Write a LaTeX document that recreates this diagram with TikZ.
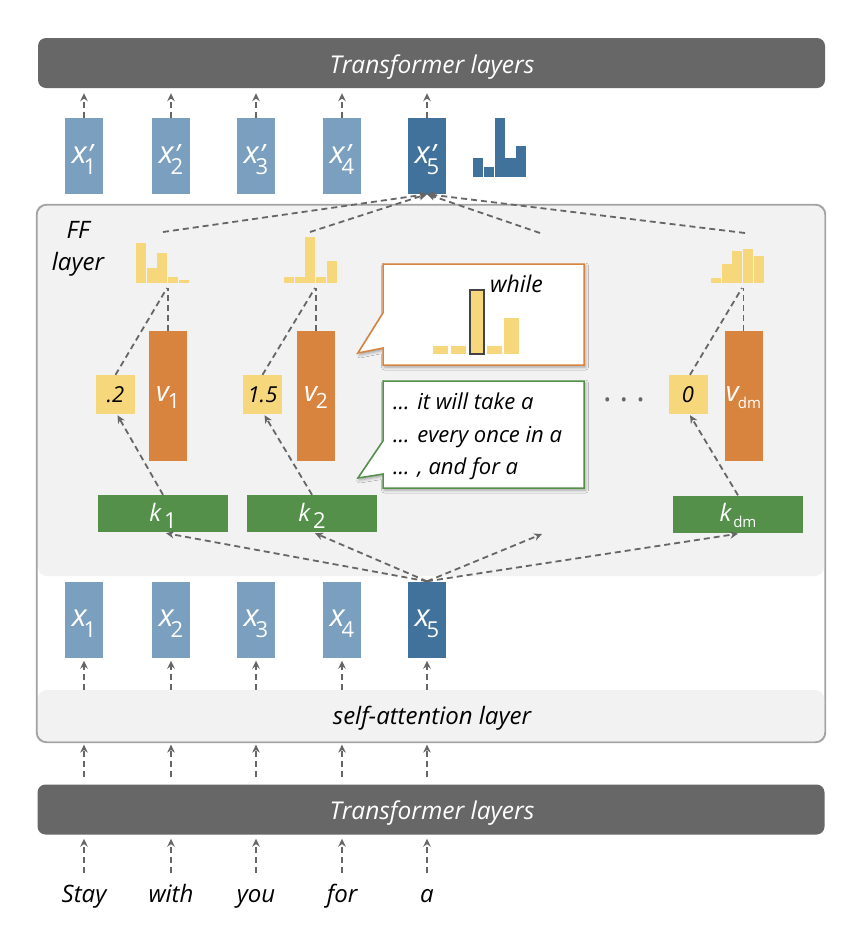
\documentclass[tikz,border=0pt]{standalone}
\usepackage{fontspec}
\setmainfont{Open Sans}
\usetikzlibrary{arrows.meta,shadows.blur}
\definecolor{darkbar}{HTML}{676767}
\definecolor{lblue}{HTML}{7BA0BF}
\definecolor{dblue}{HTML}{41729C}
\definecolor{vorange}{HTML}{D8843E}
\definecolor{vyellow}{HTML}{F6D77B}
\definecolor{kgreen}{HTML}{54904A}
\definecolor{arrc}{HTML}{666666}
\definecolor{panelf}{HTML}{F2F2F2}
\definecolor{panelb}{HTML}{A3A3A3}
\definecolor{hiedge}{HTML}{444444}
\definecolor{calloutO}{HTML}{D8843E}
\definecolor{calloutG}{HTML}{54904A}
\newcommand\xlab[1]{{\fontsize{31}{31}\selectfont\itshape x}\kern-3pt\raisebox{-11pt}{\fontsize{22}{22}\selectfont #1}}
\newcommand\xplab[1]{{\fontsize{31}{31}\selectfont\itshape x}\kern-3pt\rlap{\kern4pt\raisebox{-1pt}{\fontsize{28}{28}\selectfont\itshape ’}}\raisebox{-11pt}{\fontsize{22}{22}\selectfont #1}}
\newcommand\vlab[1]{{\fontsize{28}{28}\selectfont\itshape v}\kern-1pt\raisebox{-7pt}{\fontsize{21}{21}\selectfont #1}}
\newcommand\vdmlab{{\fontsize{28}{28}\selectfont\itshape v}\kern-1pt\raisebox{-7pt}{\fontsize{15}{15}\selectfont dm}}
\newcommand\klab[1]{{\fontsize{24}{24}\selectfont\itshape k}\kern3pt\raisebox{-7pt}{\fontsize{22}{22}\selectfont #1}}
\newcommand\kdmlab{{\fontsize{24}{24}\selectfont\itshape k}\kern2pt\raisebox{-6pt}{\fontsize{15}{15}\selectfont dm}}
\begin{document}
\begin{tikzpicture}[x=1pt,y=-1pt,
  arr/.style={draw=arrc,line width=1.8pt,dash pattern=on 6pt off 4pt,-{Stealth[length=8pt,width=7.5pt]}},
  dl/.style={draw=arrc,line width=1.8pt,dash pattern=on 6pt off 4pt},
  tbar/.style={fill=darkbar,rounded corners=8pt,minimum width=787pt,minimum height=50pt,inner sep=0pt},
  btext/.style={inner sep=0pt,anchor=base,text=white,font=\fontsize{24.5}{25}\selectfont\itshape},
  lbox/.style={fill=lblue,minimum width=38pt,minimum height=76pt,inner sep=0pt},
  dbox/.style={lbox,fill=dblue},
  vbox/.style={fill=vorange,minimum width=38pt,minimum height=130pt,inner sep=0pt},
  nbox/.style={fill=vyellow,minimum width=39pt,minimum height=39pt,inner sep=0pt,font=\fontsize{22}{22}\selectfont\itshape},
  kbox/.style={fill=kgreen,minimum width=130pt,minimum height=37pt,inner sep=0pt},
  wlab/.style={text=white,inner sep=0pt,anchor=base},
  word/.style={inner sep=0pt,anchor=base,font=\fontsize{24}{24}\selectfont\itshape},
  ctext/.style={inner sep=0pt,anchor=base west,font=\fontsize{22}{22}\selectfont\itshape},
  saband/.style={fill=panelf,rounded corners=9pt,minimum width=786pt,minimum height=51pt,inner sep=0pt},
  callshape/.style={line width=1.5pt,fill=white,blur shadow={shadow xshift=1.5pt,shadow yshift=-2pt,shadow blur radius=3pt,shadow opacity=35}},
]
\useasboundingbox (0,0) rectangle (856,940);
\fill[white] (0,0) rectangle (856,940);

% transformer bars
\node[tbar] (top) at (431.5,63) {};
\node[btext] (toptext) at (432,73) {Transformer layers};
\node[tbar] (bot) at (431,809.5) {};
\node[btext] (bottext) at (432,819) {Transformer layers};

% outer panel
\node[draw=panelb,line width=1.2pt,fill=white,rounded corners=10pt,minimum width=788pt,minimum height=537pt,inner sep=0pt] (ff) at (431,473.5) {};
\fill[panelf,rounded corners=9pt] (38,206) rectangle (824,576);
\node[saband] (sa) at (431,715.5) {};
\node[word] (satext) at (432,724) {self-attention layer};
\draw[panelb,line width=1.2pt,rounded corners=10pt] (ff.north west) rectangle (ff.south east);

% FF layer label
\node[word] (ffl) at (78,238) {FF};
\node[word] (ffl2) at (78,270) {layer};

% x' boxes
\foreach \i/\cx in {1/84,2/171,3/256,4/342}{
  \node[lbox] (xp\i) at (\cx,156) {};
  \node[wlab] at (\cx,163) {\xplab{\i}};
  \draw[arr,shorten >=5pt] (xp\i.north) -- (xp\i.north |- top.south);
}
\node[dbox] (xp5) at (427,156) {};
\node[wlab] at (427,163) {\xplab{5}};
\draw[arr,shorten >=5pt] (xp5.north) -- (xp5.north |- top.south);

% blue histogram
\foreach \xs/\yt in {473/158,483.8/167,494.6/118,505.4/158,516.2/146}
  \fill[dblue] (\xs,\yt) rectangle ({\xs+10.2},177);

% x boxes
\foreach \i/\cx/\w in {1/84/Stay,2/171/with,3/256/you,4/342/for}{
  \node[lbox] (x\i) at (\cx,619.5) {};
  \node[wlab] at (\cx,626) {\xlab{\i}};
  \draw[arr,shorten >=3pt] (x\i.south |- sa.north) -- (x\i.south);
  \draw[arr,shorten <=7pt,shorten >=2pt] (x\i.south |- bot.north) -- (x\i.south |- ff.south);
  \node[word] (w\i) at (\cx,902) {\w};
  \draw[arr,shorten >=4pt] ([yshift=29pt]w\i.base) -- (w\i.base |- bot.south);
}
\node[dbox] (x5) at (427,619.5) {};
\node[wlab] at (427,626) {\xlab{5}};
\draw[arr,shorten >=3pt] (x5.south |- sa.north) -- (x5.south);
\draw[arr,shorten <=7pt,shorten >=2pt] (x5.south |- bot.north) -- (x5.south |- ff.south);
\node[word] (w5) at (427,902) {a};
\draw[arr,shorten >=4pt] ([yshift=29pt]w5.base) -- (w5.base |- bot.south);

% yellow histograms
\foreach \xs/\yt in {136/243,146.7/268,157.4/253,168.1/277,178.8/280}
  \fill[vyellow] (\xs,\yt) rectangle ({\xs+10},283);
\foreach \xs/\yt in {284/277,294.7/277,305.4/237,316.1/277,326.8/261}
  \fill[vyellow] (\xs,\yt) rectangle ({\xs+10},283);
\foreach \xs/\yt in {711/278,721.7/264,732.4/251,743.1/249,753.8/256}
  \fill[vyellow] (\xs,\yt) rectangle ({\xs+10},283);

\coordinate (h1) at (167,288);
\coordinate (h2) at (315,288);
\coordinate (h3) at (742,288);

% v, value, k boxes
\node[vbox] (v1) at (168,396) {};
\node[wlab] at (168,401) {\vlab{1}};
\node[vbox] (v2) at (316,396) {};
\node[wlab] at (316,401) {\vlab{2}};
\node[vbox] (v3) at (743.5,396) {};
\node[wlab] at (743.5,401) {\vdmlab};

\node[nbox] (n1) at (115.5,394.5) {.2};
\node[nbox] (n2) at (262.5,394.5) {1.5};
\node[nbox] (n3) at (688,394.5) {0};

\node[kbox] (k1) at (163,513.5) {};
\node[wlab] at (163,521) {\klab{1}};
\node[kbox] (k2) at (312,513.5) {};
\node[wlab] at (312,521) {\klab{2}};
\node[kbox] (k3) at (738,514) {};
\node[wlab] at (738,521) {\kdmlab};

% value -> histogram lines
\draw[dl] (n1.north) -- (h1);
\draw[dl] (v1.north) -- (v1.north |- h1);
\draw[dl] (n2.north) -- (h2);
\draw[dl] (v2.north) -- (v2.north |- h2);
\draw[dl] ([xshift=2pt]n3.north) -- (h3);
\draw[dl] (v3.north) -- (v3.north |- h3);

% k -> value arrows
\draw[arr] (k1.north) -- ([xshift=2pt,yshift=-1pt]n1.south);
\draw[arr] (k2.north) -- ([xshift=2pt,yshift=-1pt]n2.south);
\draw[arr] (k3.north) -- ([xshift=2pt,yshift=-1pt]n3.south);

% x5 -> k arrows
\coordinate (b3) at (542,534);
\draw[arr] (x5.north) -- ([xshift=3pt,yshift=-1pt]k1.south);
\draw[arr] (x5.north) -- ([xshift=3pt,yshift=-1pt]k2.south);
\draw[arr] (x5.north) -- (b3);
\draw[arr] (x5.north) -- ([xshift=0pt,yshift=-1pt]k3.south);

% histograms -> x'5
\coordinate (t1) at (163,232);
\coordinate (t2) at (310,232);
\coordinate (t3) at (540,233);
\coordinate (t4) at (745,233);
\foreach \t in {t1,t2,t3,t4} \draw[arr] (\t) -- (xp5.south);

% orange callout
\path[callshape,draw=calloutO] (383,264) -- (584,264) -- (584,365) -- (383,365) -- (383,348) -- (358,353) -- (383,313) -- cycle;
\foreach \xs/\yt in {433/346,451/346,487/346,504/318}
  \fill[vyellow] (\xs,\yt) rectangle ({\xs+15},354);
\filldraw[fill=vyellow,draw=hiedge,line width=1.5pt] (470,290) rectangle (484,354);
\node[ctext,font=\fontsize{23}{23}\selectfont\itshape] (while) at (490,292) {while};

% green callout
\path[callshape,draw=calloutG] (383,381) -- (584,381) -- (584,488) -- (383,488) -- (383,474) -- (358,478) -- (383,441) -- cycle;
\node[ctext] (c1) at (393,409) {... it will take a};
\node[ctext] (c2) at (393,442) {... every once in a};
\node[ctext] (c3) at (393,474) {... , and for a};

% ellipsis dots
\node[inner sep=0pt,anchor=base,text=arrc,font=\fontsize{32}{32}\selectfont] (dots) at (624,401) {.\hspace{8pt}.\hspace{8pt}.};
\end{tikzpicture}
\end{document}
